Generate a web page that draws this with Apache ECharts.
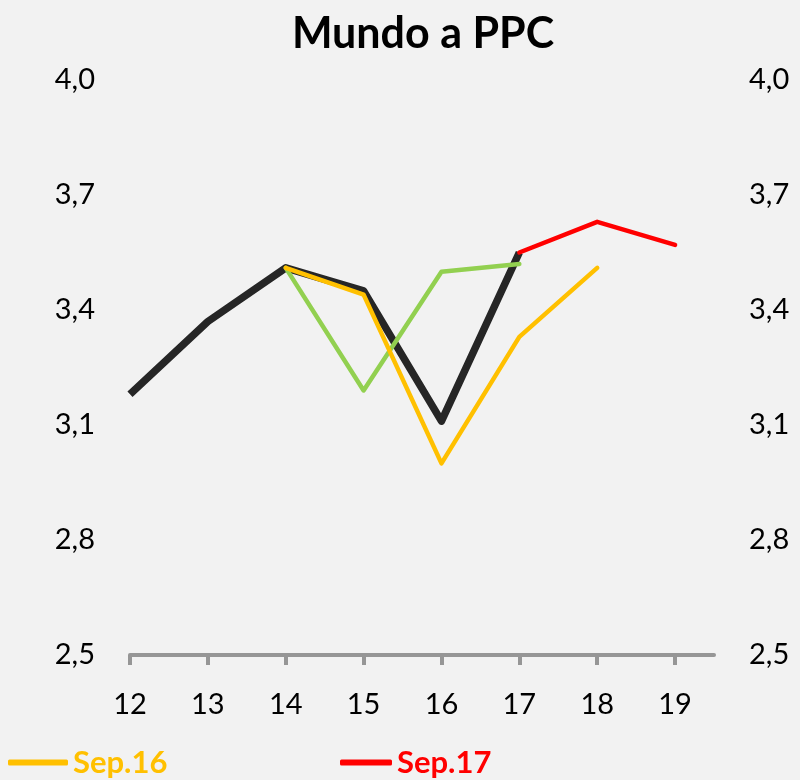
<!DOCTYPE html>
<html>
<head>
<meta charset="utf-8">
<script src="https://cdn.jsdelivr.net/npm/echarts@6/dist/echarts.min.js"></script>
<style>
  html, body { margin: 0; padding: 0; background: #f2f2f2; }
  #chart { width: 800px; height: 780px; }
</style>
</head>
<body>
<div id="chart"></div>
<script>
// datos
var years = [12, 13, 14, 15, 16, 17, 18, 19];
var actual = [3.18, 3.37, 3.51, 3.45, 3.11, 3.55, null, null];
var sep15 = [null, null, 3.51, 3.19, 3.50, 3.52, null, null];
var sep16 = [null, null, 3.51, 3.44, 3.00, 3.33, 3.51, null];
var sep17 = [null, null, null, null, null, 3.55, 3.63, 3.57];
var yTicks = [2.5, 2.8, 3.1, 3.4, 3.7, 4.0];

var font = 'Lato, "Open Sans", sans-serif';

function pairs(vals) {
  return years.map(function (y, i) { return [y, vals[i]]; });
}
function fmt(v) {
  return v.toFixed(1).replace('.', ',');
}

var chart = echarts.init(document.getElementById('chart'));

var yAxisBase = {
  type: 'value',
  min: 2.5,
  max: 4.0,
  axisLine: { show: false },
  axisTick: { show: false },
  splitLine: { show: false },
  axisLabel: {
    customValues: yTicks,
    formatter: fmt,
    fontSize: 29,
    color: '#000',
    fontFamily: font,
    margin: 35
  }
};

chart.setOption({
  backgroundColor: '#f2f2f2',
  animation: false,
  title: {
    text: 'Mundo a PPC',
    left: 418,
    textAlign: 'center',
    top: 8,
    textStyle: { fontSize: 43, fontWeight: 'bold', color: '#000', fontFamily: font }
  },
  legend: [
    {
      left: 3, top: 742,
      itemWidth: 60, itemHeight: 6, itemGap: 5, icon: 'roundRect',
      data: [{ name: 'Sep.16', textStyle: { color: '#ffc000' } }],
      textStyle: { fontSize: 31, fontWeight: 'bold', fontFamily: font }
    },
    {
      left: 335, top: 742,
      itemWidth: 52, itemHeight: 6, icon: 'roundRect',
      data: [{ name: 'Sep.17', textStyle: { color: '#ff0000' } }],
      textStyle: { fontSize: 31, fontWeight: 'bold', fontFamily: font }
    }
  ],
  grid: { left: 130, right: 86, top: 80, bottom: 125 },
  xAxis: {
    type: 'value',
    min: 12,
    max: 19.5,
    splitLine: { show: false },
    axisLine: { lineStyle: { color: '#969696', width: 4 } },
    axisTick: {
      customValues: years,
      length: 10,
      lineStyle: { color: '#969696', width: 4 }
    },
    axisLabel: {
      customValues: years,
      fontSize: 29,
      color: '#000',
      fontFamily: font,
      margin: 35
    }
  },
  yAxis: [
    Object.assign({ position: 'left' }, yAxisBase),
    Object.assign({ position: 'right' }, yAxisBase)
  ],
  series: [
    {
      name: 'Actual', type: 'line', data: pairs(actual), symbol: 'none',
      lineStyle: { color: '#262626', width: 7.5, join: 'round' }, itemStyle: { color: '#262626' }
    },
    {
      name: 'Sep.15', type: 'line', data: pairs(sep15), symbol: 'none',
      lineStyle: { color: '#92d050', width: 4.5, join: 'round', cap: 'round' }, itemStyle: { color: '#92d050' }
    },
    {
      name: 'Sep.16', type: 'line', data: pairs(sep16), symbol: 'none',
      lineStyle: { color: '#ffc000', width: 4.5, join: 'round', cap: 'round' }, itemStyle: { color: '#ffc000' }
    },
    {
      name: 'Sep.17', type: 'line', data: pairs(sep17), symbol: 'none',
      lineStyle: { color: '#ff0000', width: 4.5, join: 'round', cap: 'round' }, itemStyle: { color: '#ff0000' }
    }
  ]
});
</script>
</body>
</html>
